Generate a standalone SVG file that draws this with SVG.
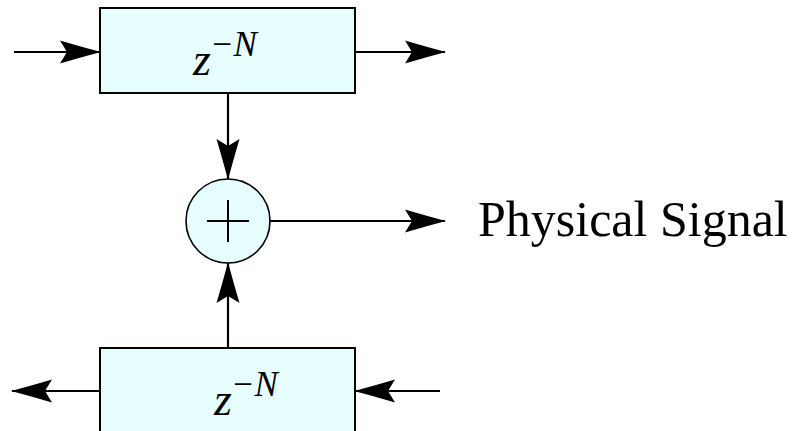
<svg xmlns="http://www.w3.org/2000/svg" width="797" height="431" viewBox="0 0 797 431">
<style>
.box{fill:#E6FEFE;stroke:#000;stroke-width:2}
.ln{fill:none;stroke:#000;stroke-width:2.2}
.mt{font-family:"Liberation Serif","Times New Roman",serif;font-style:italic;fill:#000}
.lbl{font-family:"Liberation Serif","Times New Roman",serif;font-size:50px;fill:#000}
</style>
<defs>
<marker id="ah" markerUnits="userSpaceOnUse" markerWidth="44" markerHeight="26" viewBox="-42 -13 44 26" refX="0" refY="0" orient="auto">
<path d="M1,0 Q-18,-5 -40,-11.5 L-33,0 L-40,11.5 Q-18,5 1,0 Z" fill="#000"/>
</marker>
</defs>
<g id="connectors">
<line class="ln" x1="14" y1="52" x2="100" y2="52" marker-end="url(#ah)"/>
<line class="ln" x1="355" y1="52" x2="445" y2="52" marker-end="url(#ah)"/>
<line class="ln" x1="228" y1="93" x2="228" y2="179" marker-end="url(#ah)"/>
<line class="ln" x1="228" y1="348" x2="228" y2="263" marker-end="url(#ah)"/>
<line class="ln" x1="270" y1="221" x2="445" y2="221" marker-end="url(#ah)"/>
<line class="ln" x1="100" y1="391" x2="12" y2="391" marker-end="url(#ah)"/>
<line class="ln" x1="440" y1="391" x2="355" y2="391" marker-end="url(#ah)"/>
</g>
<g id="delay-top">
<rect class="box" x="100" y="8" width="255" height="85"/>
<text class="mt" x="193" y="75" font-size="46">z<tspan font-size="35" dx="-1" dy="-19">−N</tspan></text>
</g>
<g id="sum">
<circle cx="228" cy="221" r="42" fill="#E6FEFE" stroke="#000" stroke-width="1.6"/>
<line x1="207" y1="221" x2="249" y2="221" stroke="#000" stroke-width="2"/>
<line x1="228" y1="200" x2="228" y2="242" stroke="#000" stroke-width="2"/>
</g>
<g id="output-label">
<text class="lbl" x="478" y="236">Physical Signal</text>
</g>
<g id="delay-bottom">
<rect class="box" x="100" y="348" width="255" height="90"/>
<text class="mt" x="214" y="415" font-size="46">z<tspan font-size="35" dx="-1" dy="-19">−N</tspan></text>
</g>
</svg>
